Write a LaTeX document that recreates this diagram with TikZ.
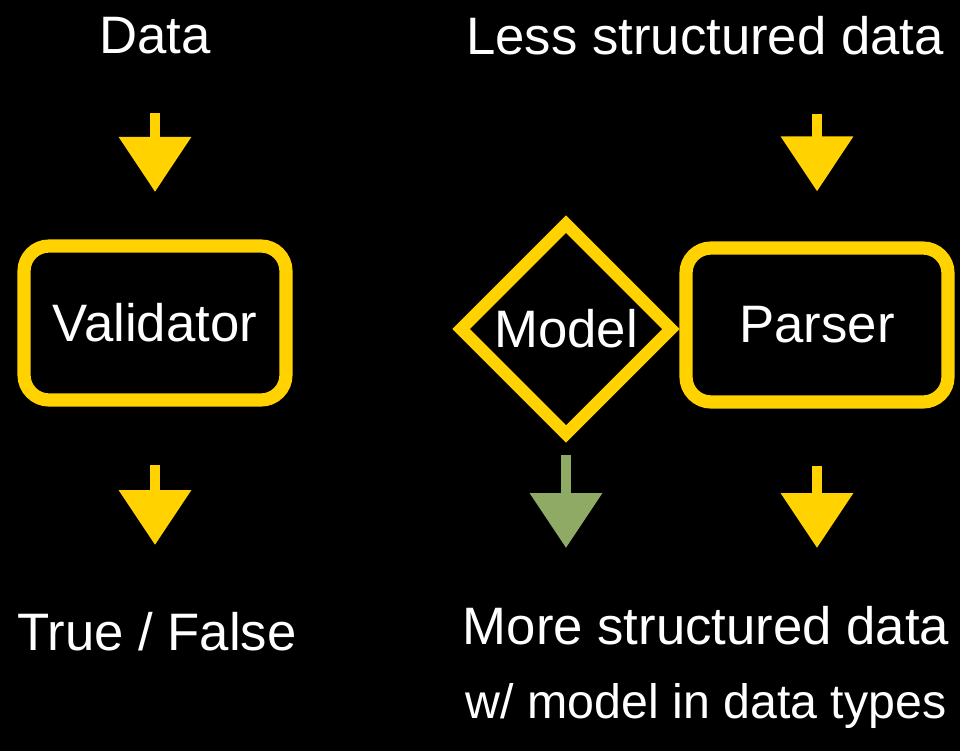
\documentclass[tikz,border=0pt]{standalone}
\usepackage{fontspec}
\setmainfont{Liberation Sans}
\usetikzlibrary{shapes.geometric}
\usetikzlibrary{arrows.meta}
\definecolor{sunyellow}{RGB}{255,210,0}
\definecolor{sagegreen}{RGB}{143,170,100}
\tikzset{
    txtnode/.style = {inner sep=0pt, text=white, align=center, font=\fontsize{30}{42}\selectfont},
    boxnode/.style = {rectangle, rounded corners=0.5cm, line width=7.5pt, draw=sunyellow, minimum width=5.24cm, minimum height=3.08cm, text=white, font=\fontsize{30}{36}\selectfont},
    diamnode/.style = {diamond, line width=7pt, draw=sunyellow, minimum width=4.3cm, minimum height=4.3cm, inner sep=0pt, text=white, font=\fontsize{30}{36}\selectfont},
    edgey/.style = {-{Triangle[width=1.4cm,length=1.1cm]}, line width=6pt, sunyellow},
    edgeg/.style = {-{Triangle[width=1.4cm,length=1.1cm]}, line width=6pt, sagegreen}
}

\begin{document}
\begin{tikzpicture}[x=0.02cm, y=-0.02cm]
\fill[black] (0,0) rectangle (960,751);
\useasboundingbox (0,0) rectangle (960,751);
\node[txtnode] at (155, 36) (data) {Data};
\node[txtnode] at (705, 36) (lsd) {Less structured data};
\node[boxnode] at (155, 323) (val) {Validator};
\node[diamnode] at (566, 329) (mod) {Model};
\node[boxnode] at (817, 325) (par) {Parser};
\node[txtnode, anchor=north] at (157, 612) (tf) {True / False};
\node[txtnode, anchor=north] at (706, 606) (msd) {More structured data\\{\fontsize{27.5}{42}\selectfont w/ model in data types}};
%
\draw[edgey, shorten <=1.16cm, shorten >=0.95cm] (data.south) -- (val.north);
\draw[edgey, shorten <=1.16cm, shorten >=1.0cm] (lsd.south -| par.north) -- (par.north);
\draw[edgey, shorten <=1.16cm, shorten >=1.34cm] (val.south) -- (val.south |- tf.north);
\draw[edgeg, shorten <=0.24cm, shorten >=1.16cm] (mod.south) -- (mod.south |- msd.north);
\draw[edgey, shorten <=1.15cm, shorten >=1.16cm] (par.south) -- (par.south |- msd.north);

\end{tikzpicture}
\end{document}
